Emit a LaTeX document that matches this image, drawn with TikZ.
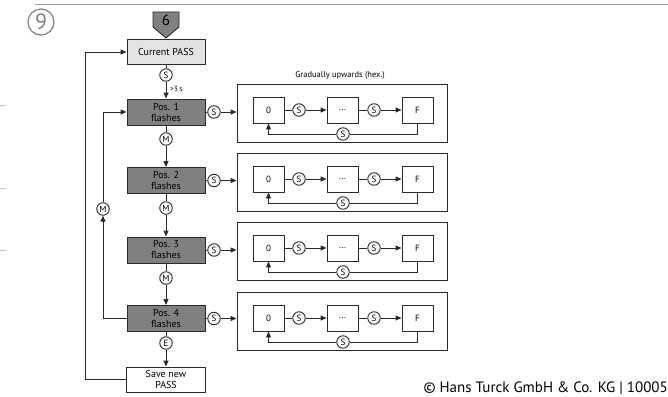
\documentclass[tikz,border=0pt]{standalone}
\usepackage{fontspec}
\setmainfont{PT Sans}
\usetikzlibrary{arrows.meta,calc}
\definecolor{dg}{HTML}{808080}
\definecolor{lg}{HTML}{E3E3E3}
\definecolor{ln}{HTML}{2A2A2A}
\definecolor{rule}{HTML}{9A9A9A}
\begin{document}
\begin{tikzpicture}[x=1pt,y=-1pt,
  line/.style={draw=ln, line width=0.9pt},
  arr/.style={line, -{Triangle[length=6pt,width=5pt]}},
  box/.style={draw=ln, line width=0.9pt, minimum width=78pt, minimum height=26pt, inner sep=0pt, align=center, font=\fontsize{10}{11}\selectfont},
  posbox/.style={box, fill=dg},
  sbox/.style={draw=ln, line width=0.9pt, minimum width=31pt, minimum height=26pt, inner sep=0pt, font=\fontsize{9}{9}\selectfont},
  frame/.style={draw=ln, line width=0.9pt, minimum width=210pt, minimum height=58pt, inner sep=0pt},
  key/.style={circle, draw=ln, fill=white, line width=0.9pt, minimum size=12.5pt, inner sep=0pt, font=\fontsize{9}{9}\selectfont},
]
\useasboundingbox (0,0) rectangle (668,396);
% header rule and margin ticks
\draw[rule, line width=1pt] (35,5) -- (668,5);
\draw[rule!60, line width=1pt] (0,105) -- (6,105);
\draw[rule!60, line width=1pt] (0,188) -- (6,188);
\draw[rule!60, line width=1pt] (0,250) -- (6,250);
% circled 9
\node[circle, draw=gray, line width=1.2pt, minimum size=26pt, inner sep=0pt, text=gray, font=\fontsize{22}{22}\selectfont] (nine) at (41,22) {9};
% tag 6
\draw[ln, fill=dg, line width=0.9pt] (153,12) -- (179,12) -- (179,27) -- (166,38) -- (153,27) -- cycle;
\node[font=\fontsize{15}{15}\selectfont] (six) at (166,20) {6};
% main column
\node[box, fill=lg, minimum height=25pt] (cur) at (166,52) {Current PASS};
\node[posbox] (p1) at (166,112) {Pos. 1\\flashes};
\node[posbox] (p2) at (166,180.5) {Pos. 2\\flashes};
\node[posbox] (p3) at (166,250) {Pos. 3\\flashes};
\node[posbox] (p4) at (166,318.5) {Pos. 4\\flashes};
\node[box, fill=white, minimum height=25pt, minimum width=79pt] (save) at (166,379.5) {Save new\\PASS};
\node[key] (s0) at (166,75) {S};
\node[key] (m1) at (166,139) {M};
\node[key] (m2) at (166,208) {M};
\node[key] (m3) at (166,278) {M};
\node[key] (e4) at (166,343) {E};
\node[font=\fontsize{7.5}{7.5}\selectfont, anchor=west, inner sep=1pt] (gt) at (169,89) {>3\,s};
\draw[line] (cur) -- (s0);
\draw[arr] (s0) -- (p1);
\draw[line] (p1) -- (m1);
\draw[arr] (m1) -- (p2);
\draw[line] (p2) -- (m2);
\draw[arr] (m2) -- (p3);
\draw[line] (p3) -- (m3);
\draw[arr] (m3) -- (p4);
\draw[line] (p4) -- (e4);
\draw[arr] (e4) -- (save);
% loops on the left
\coordinate (oa) at (85,379.5);
\coordinate (ob) at (85,52);
\draw[arr] (save.west) -- (oa) -- (ob) -- (cur.west);
\node[key] (ml) at (103,209) {M};
\coordinate (ia) at (103,318.5);
\coordinate (ib) at (103,112);
\draw[arr] (p4.west) -- (ia) -- (ml.south);
\draw[arr] (ml.north) -- (ib) -- (p1.west);
% title of right side
\node[font=\fontsize{8.5}{8.5}\selectfont] (grad) at (340,75) {Gradually upwards (hex.)};
% right boxes
\foreach \i/\c/\r in {1/113/112,2/182/180.5,3/251/250,4/321/318.5}{
  \node[frame] (b\i) at (342,\c) {};
  \node[key] (rs\i) at (214,\r) {S};
  \draw[line] (p\i.east) -- (rs\i);
  \draw[arr] (rs\i) -- (b\i.west |- rs\i);
  \node[sbox] (z\i) at (268.5,\c-3) {0};
  \node[sbox] (d\i) at (342.5,\c-3) {...};
  \node[sbox] (f\i) at (417.5,\c-3) {F};
  \node[key] (sa\i) at (299,\c-3) {S};
  \node[key] (sb\i) at (374,\c-3) {S};
  \node[key] (sc\i) at (343,\c+21) {S};
  \draw[line] (z\i) -- (sa\i);
  \draw[arr] (sa\i) -- (d\i);
  \draw[line] (d\i) -- (sb\i);
  \draw[arr] (sb\i) -- (f\i);
  \draw[line] (f\i.south) |- (sc\i.east);
  \draw[arr] (sc\i.west) -| (z\i.south);
}
% copyright
\node[anchor=east, inner sep=0pt, font=\fontsize{15}{15}\selectfont] (copy) at (668,388) {© Hans Turck GmbH \& Co. KG | 10005};
\end{tikzpicture}
\end{document}
